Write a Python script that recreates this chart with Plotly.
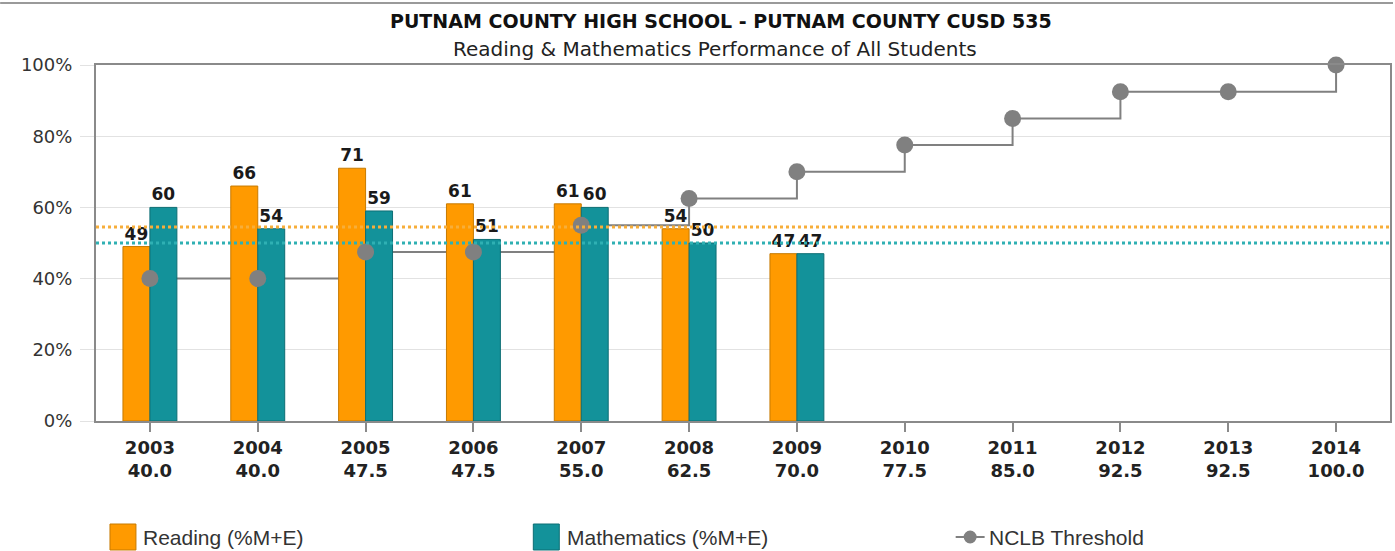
import plotly.graph_objects as go

# ---------------- data ----------------
years = ["2003", "2004", "2005", "2006", "2007", "2008", "2009",
         "2010", "2011", "2012", "2013", "2014"]
threshold = [40.0, 40.0, 47.5, 47.5, 55.0, 62.5, 70.0, 77.5, 85.0, 92.5, 92.5, 100.0]
bar_years = ["2003", "2004", "2005", "2006", "2007", "2008", "2009"]
reading = [49, 66, 71, 61, 61, 54, 47]
mathematics = [60, 54, 59, 51, 60, 50, 47]
reading_state_avg = 54.5
math_state_avg = 50.0
y_ticks = [0, 20, 40, 60, 80, 100]
y_tick_text = [f"{v}%" for v in y_ticks]
x_tick_text = [f"{y}<br>{t:.1f}" for y, t in zip(years, threshold)]
title_text = "PUTNAM COUNTY HIGH SCHOOL - PUTNAM COUNTY CUSD 535"
subtitle_text = "Reading &amp; Mathematics Performance of All Students"
series_names = ["Reading (%M+E)", "Mathematics (%M+E)", "NCLB Threshold"]

# ---------------- style ----------------
W, H = 1395, 551
L, R, T, B = 96, 3, 65, 130
PW, PH = W - L - R, H - T - B
ORANGE = "#FF9A00"
ORANGE_EDGE = "#C77A00"
TEAL = "#13929A"
TEAL_EDGE = "#0D6E74"
GRAY = "#808080"
FRAME = "#8a8a8a"


def px(xp):
    return (xp - L) / PW


def py(yp):
    return (H - B - yp) / PH


fig = go.Figure()

# threshold step line (main subplot, beneath bars)
fig.add_trace(go.Scatter(
    x=years, y=threshold, mode="lines", line=dict(color=GRAY, width=2, shape="hv"),
    showlegend=False, hoverinfo="skip", xaxis="x", yaxis="y"))

# bars (overlay subplot)
fig.add_trace(go.Bar(
    x=bar_years, y=reading, name=series_names[0],
    marker=dict(color=ORANGE, line=dict(color=ORANGE_EDGE, width=1)),
    text=reading, textposition="outside", constraintext="none", cliponaxis=False,
    textfont=dict(family="DejaVu Sans", size=17, color="#1a1a1a", weight="bold"),
    xaxis="x2", yaxis="y2", showlegend=False))
fig.add_trace(go.Bar(
    x=bar_years, y=mathematics, name=series_names[1],
    marker=dict(color=TEAL, line=dict(color=TEAL_EDGE, width=1)),
    text=mathematics, textposition="outside", constraintext="none", cliponaxis=False,
    textfont=dict(family="DejaVu Sans", size=17, color="#1a1a1a", weight="bold"),
    xaxis="x2", yaxis="y2", showlegend=False))

# threshold markers above bars
fig.add_trace(go.Scatter(
    x=years, y=threshold, mode="markers", name=series_names[2],
    marker=dict(color=GRAY, size=17), cliponaxis=False,
    showlegend=False, xaxis="x2", yaxis="y2"))

shapes = []
# dotted average lines
for val, col in [(reading_state_avg, "#F7AE3A"), (math_state_avg, "#2FB0B3")]:
    shapes.append(dict(type="line", xref="x domain", yref="y", x0=0, x1=1, y0=val, y1=val,
                       line=dict(color=col, width=3, dash="dot"), layer="above"))

# outer top border of the image
shapes.append(dict(type="line", xref="paper", yref="paper", x0=px(0), x1=px(W),
                   y0=py(3), y1=py(3), line=dict(color="#9a9a9a", width=2)))

# custom legend
leg_y = 537
sq = 13
shapes.append(dict(type="rect", xref="paper", yref="paper",
                   x0=px(110), x1=px(136), y0=py(leg_y + sq), y1=py(leg_y - sq),
                   fillcolor=ORANGE, line=dict(color=ORANGE_EDGE, width=1)))
shapes.append(dict(type="rect", xref="paper", yref="paper",
                   x0=px(534), x1=px(560), y0=py(leg_y + sq), y1=py(leg_y - sq),
                   fillcolor=TEAL, line=dict(color=TEAL_EDGE, width=1)))
shapes.append(dict(type="line", xref="paper", yref="paper",
                   x0=px(957), x1=px(986), y0=py(leg_y), y1=py(leg_y),
                   line=dict(color=GRAY, width=2)))
shapes.append(dict(type="circle", xref="paper", yref="paper",
                   x0=px(965), x1=px(978), y0=py(leg_y + 6.5), y1=py(leg_y - 6.5),
                   fillcolor=GRAY, line=dict(color=GRAY, width=0)))

annotations = [
    dict(text="<b>" + title_text + "</b>", xref="paper", yref="paper", x=px(722), y=py(21),
         showarrow=False, xanchor="center", yanchor="middle",
         font=dict(family="DejaVu Sans", size=19, color="#111")),
    dict(text=subtitle_text, xref="paper", yref="paper", x=px(716), y=py(49),
         showarrow=False, xanchor="center", yanchor="middle",
         font=dict(family="DejaVu Sans", size=20, color="#222")),
]
for name, xs in zip(series_names, [141, 566, 988]):
    annotations.append(dict(text=name, xref="paper", yref="paper", x=px(xs), y=py(leg_y),
                            showarrow=False, xanchor="left", yanchor="middle",
                            font=dict(family="Liberation Sans", size=21, color="#333")))

fig.update_layout(
    width=W, height=H,
    margin=dict(l=L, r=R, t=T, b=B, pad=0),
    paper_bgcolor="white", plot_bgcolor="white",
    barmode="group", bargap=0.5, bargroupgap=0,
    showlegend=False,
    xaxis=dict(type="category", categoryorder="array", categoryarray=years,
               range=[-0.5, len(years) - 0.5], tickmode="array", tickvals=years,
               ticktext=x_tick_text, ticks="outside", ticklen=9, tickwidth=1.5,
               tickcolor=FRAME, showline=True, linecolor=FRAME, linewidth=2, mirror=True,
               showgrid=False, zeroline=False,
               tickfont=dict(family="DejaVu Sans", size=18, color="#222", weight="bold")),
    yaxis=dict(range=[0, 100], tickmode="array", tickvals=y_ticks, ticktext=y_tick_text,
               showgrid=True, gridcolor="#e2e2e2", gridwidth=1,
               showline=True, linecolor=FRAME, linewidth=2, mirror=True,
               ticks="outside", ticklen=14, tickcolor="#e2e2e2", zeroline=False,
               ticklabelstandoff=4,
               tickfont=dict(family="DejaVu Sans", size=18, color="#333")),
    xaxis2=dict(type="category", categoryorder="array", categoryarray=years,
                range=[-0.5, len(years) - 0.5], overlaying="x", anchor="y2", visible=False),
    yaxis2=dict(range=[0, 100], overlaying="y", anchor="x2", visible=False),
    shapes=shapes,
    annotations=annotations,
)

fig.write_html("out.html", config={"displayModeBar": False},
               post_script="document.body.style.margin='0';document.body.style.overflow='hidden';")
